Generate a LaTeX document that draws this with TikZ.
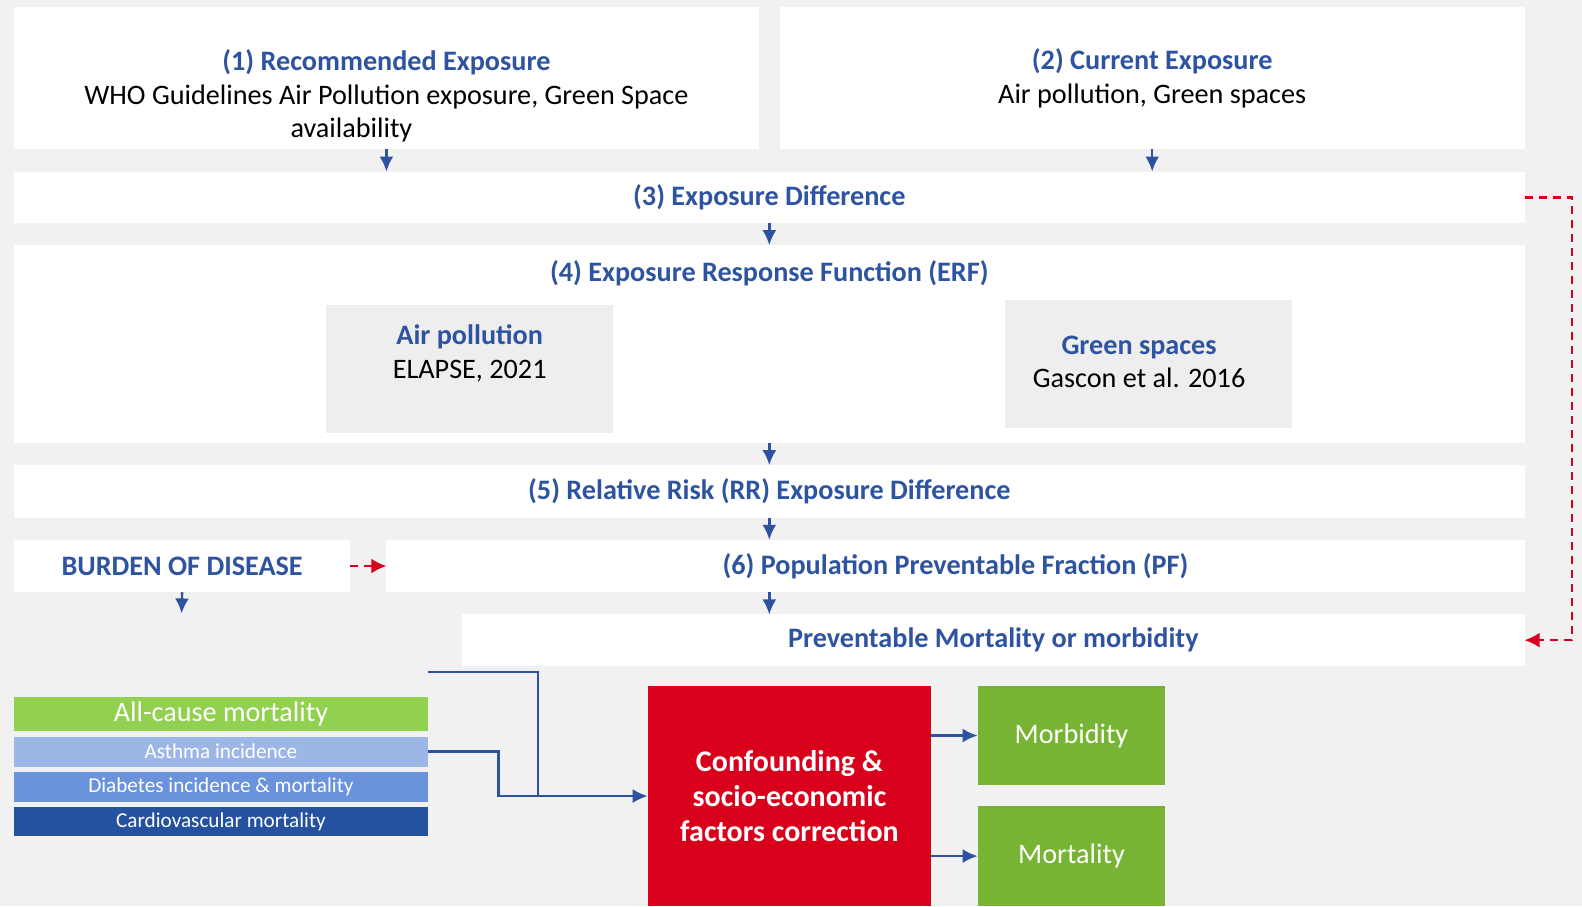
\documentclass[tikz,border=0pt]{standalone}
\usepackage{fontspec}
\setmainfont{Carlito}
\usepackage{xcolor}
\usepackage{tikz}
\usetikzlibrary{shapes,arrows,arrows.meta}

\definecolor{hdblue}{RGB}{46,84,161}
\definecolor{linkblue}{RGB}{45,83,160}
\definecolor{bgray}{HTML}{F1F1F1}
\definecolor{ingray}{HTML}{EEEEEE}
\definecolor{confred}{HTML}{D9001B}
\definecolor{allgreen}{HTML}{92D050}
\definecolor{asthblue}{HTML}{9CB7E6}
\definecolor{diabblue}{HTML}{6A93DB}
\definecolor{cardblue}{HTML}{2452A0}
\definecolor{outgreen}{HTML}{77B433}

\newcommand{\pxu}{0.5045pt}
\newcommand{\mainsize}{\fontsize{14.1}{16.8}\selectfont}
\newcommand{\barsize}{\fontsize{10.6}{12.7}\selectfont}
\newcommand{\bigsize}{\fontsize{15}{17.4}\selectfont}

\begin{document}
\begin{tikzpicture}[x=0.5045pt, y=-0.5045pt]
	\tikzstyle{block} = [rectangle, fill=white, inner sep=0pt, outer sep=0pt,
	font=\mainsize\bfseries, text=hdblue, align=center]
	\tikzstyle{inner} = [block, fill=ingray]
	\tikzstyle{txt} = [font=\mainsize, align=center, inner sep=0pt]
	\tikzstyle{bar} = [rectangle, inner sep=0pt, outer sep=0pt, text=white,
	minimum width=410*\pxu, font=\barsize]
	\tikzstyle{line} = [draw=linkblue, -{Latex[length=7.5pt,width=7pt]}, line width=1.2pt]
	\tikzstyle{back} = [draw=confred, -{Latex[length=7.5pt,width=7.5pt]}, line width=1.3pt,
	dash pattern=on 4pt off 3pt]
	% Background
	\fill[bgray] (0,0) rectangle (1568,898);
	% Exposure steps
	\node [block, minimum width=738*\pxu, minimum height=141*\pxu] (rec) at (383,77.5) {};
	\node [txt] (rectxt) at (383,95) {\textcolor{hdblue}{\bfseries (1) Recommended Exposure}\\
	WHO Guidelines Air Pollution exposure, Green Space\\ availability\hspace*{35pt}};
	\node [block, minimum width=738*\pxu, minimum height=141*\pxu] (cur) at (1142,77.5)
	{(2) Current Exposure\\ \mdseries\color{black} Air pollution, Green spaces};
	\node [block, minimum width=1497*\pxu, minimum height=51*\pxu] (diff) at (762.5,195.5)
	{(3) Exposure Difference};
	\node [block, minimum width=1497*\pxu, minimum height=196*\pxu] (erf) at (762.5,341) {};
	\node [txt, font=\mainsize\bfseries, text=hdblue] (erftitle) at (762.5,271)
	{(4) Exposure Response Function (ERF)};
	\node [inner, minimum width=285*\pxu, minimum height=127*\pxu] (airp) at (465.5,365.5) {};
	\node [txt] (airtxt) at (465.5,350) {\textcolor{hdblue}{\bfseries Air pollution}\\ ELAPSE, 2021};
	\node [inner, minimum width=285*\pxu, minimum height=127*\pxu] (grsp) at (1138.5,360.5) {};
	\node [txt] (grtxt) at (1129,358.5) {\textcolor{hdblue}{\bfseries Green spaces}\\ Gascon et al. 2016};
	\node [block, minimum width=1497*\pxu, minimum height=52*\pxu] (rr) at (762.5,487)
	{(5) Relative Risk (RR) Exposure Difference};
	\node [block, minimum width=1128*\pxu, minimum height=52*\pxu] (pf) at (947,561)
	{(6) Population Preventable Fraction (PF)};
	\node [block, minimum width=333*\pxu, minimum height=52*\pxu] (bod) at (180.5,561)
	{BURDEN OF DISEASE};
	\node [block, minimum width=1053*\pxu, minimum height=51*\pxu] (prev) at (984.5,634.5)
	{Preventable Mortality or morbidity};
	% Health outcomes
	\node [bar, fill=allgreen, minimum height=34*\pxu, font=\mainsize] (allc) at (219,708) {All-cause mortality};
	\node [bar, fill=asthblue, minimum height=30*\pxu] (asth) at (219,745) {Asthma incidence};
	\node [bar, fill=diabblue, minimum height=30*\pxu] (diab) at (219,780) {Diabetes incidence \& mortality};
	\node [bar, fill=cardblue, minimum height=29*\pxu] (card) at (219,814.5) {Cardiovascular mortality};
	\node [block, fill=confred, text=white, font=\bigsize\bfseries, minimum width=281*\pxu,
	minimum height=218*\pxu] (conf) at (782.5,789)
	{Confounding \&\\ socio-economic\\ factors correction};
	\node [block, fill=outgreen, text=white, font=\mainsize, minimum width=186*\pxu,
	minimum height=98*\pxu] (morb) at (1062,729) {Morbidity};
	\node [block, fill=outgreen, text=white, font=\mainsize, minimum width=186*\pxu,
	minimum height=99*\pxu] (mort) at (1062,848.5) {Mortality};
	\coordinate (bodend) at (180,608);
	\coordinate (feed) at (424,666);
	\coordinate (loop) at (1558,400);
	% Draw edges
	\path [line] (rec.south) -- (rec.south |- diff.north);
	\path [line] (cur.south) -- (cur.south |- diff.north);
	\path [line] (diff.south) -- (erf.north);
	\path [line] (erf.south) -- (rr.north);
	\path [line] (rr.south) -- (rr.south |- pf.north);
	\path [line] (rr.south |- pf.south) -- (rr.south |- prev.north);
	\path [line] (bod.south) -- (bodend);
	\path [back] (bod.east) -- (pf.west);
	\path [back] (diff.east) -| (loop) |- (prev.east);
	\path [draw=linkblue, line width=1.2pt] (feed) -| (533,789);
	\path [line] (asth.east) -- ++(70,0) |- (conf.west);
	\path [line] (conf.east |- morb.west) -- (morb.west);
	\path [line] (conf.east |- mort.west) -- (mort.west);
\end{tikzpicture}
\end{document}
